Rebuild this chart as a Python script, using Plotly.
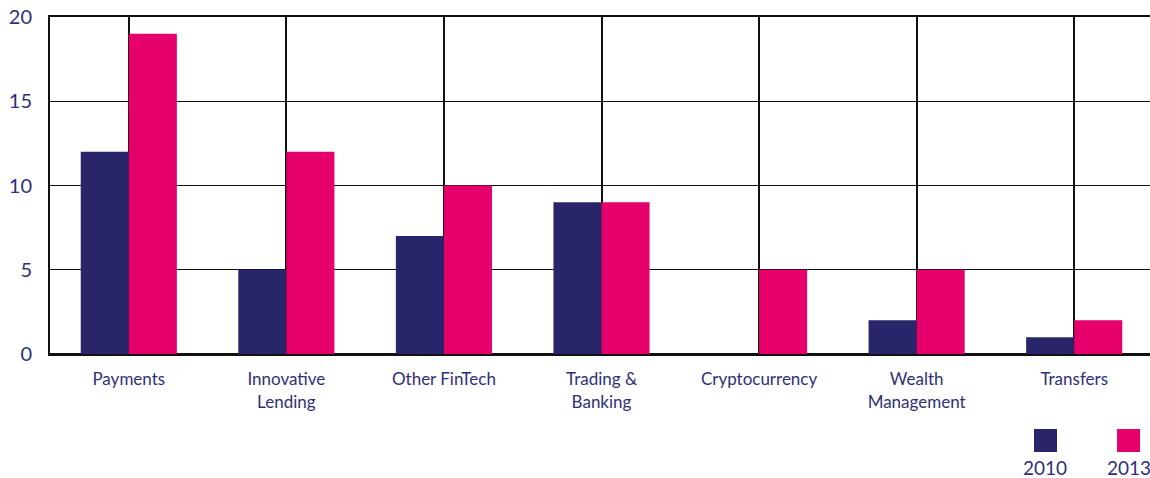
import plotly.graph_objects as go

categories = ["Payments", "Innovative<br>Lending", "Other FinTech", "Trading &<br>Banking",
              "Cryptocurrency", "Wealth<br>Management", "Transfers"]
values_2010 = [12, 5, 7, 9, 0, 2, 1]
values_2013 = [19, 12, 10, 9, 5, 5, 2]
series_names = ["2010", "2013"]
y_ticks = [0, 5, 10, 15, 20]

NAVY = "#28256B"
PINK = "#E5006B"
TEXT = "#2F3079"
FONT = "Lato, Open Sans, sans-serif"

fig = go.Figure()
fig.add_trace(go.Bar(x=categories, y=values_2010, name=series_names[0], marker=dict(color=NAVY, line=dict(width=0))))
fig.add_trace(go.Bar(x=categories, y=values_2013, name=series_names[1], marker=dict(color=PINK, line=dict(width=0))))

fig.update_layout(
    width=1153, height=478,
    margin=dict(l=50, r=0, t=17, b=124, autoexpand=False),
    barmode="group", bargap=0.39, bargroupgap=0,
    plot_bgcolor="white", paper_bgcolor="white",
    showlegend=False,
    font=dict(family=FONT, color=TEXT, size=17),
)
fig.update_xaxes(
    showgrid=True, gridcolor="#111111", gridwidth=1.6,
    showline=True, mirror=True, linecolor="#111111", linewidth=2,
    zeroline=False, ticks="", automargin=False,
    tickfont=dict(size=17, color=TEXT, family=FONT),
    ticklabelstandoff=9,
)
fig.update_yaxes(
    range=[0, 20], tickvals=y_ticks,
    showgrid=True, gridcolor="#111111", gridwidth=1.4,
    zeroline=True, zerolinecolor="#111111", zerolinewidth=2.2,
    showline=True, linecolor="#111111", linewidth=2,
    ticks="", automargin=False,
    tickfont=dict(size=20, color=TEXT, family=FONT),
    ticklabelstandoff=12, ticklabeloverflow="allow",
)

# legend: colored squares with year labels below
legend_items = [(series_names[0], NAVY, 0.8921), (series_names[1], PINK, 0.9674)]
for name, color, xl in legend_items:
    fig.add_shape(type="rect", xref="paper", yref="paper",
                  x0=xl, x1=xl + 0.02085, y0=-0.2908, y1=-0.2226,
                  fillcolor=color, line=dict(width=0))
    fig.add_annotation(xref="paper", yref="paper", x=xl + 0.0104, y=-0.336,
                       text=name, showarrow=False, xanchor="center", yanchor="middle",
                       font=dict(size=19, color=TEXT, family=FONT))

fig.write_html(
    "out.html",
    config={"displayModeBar": False},
    post_script="document.body.style.margin='0';document.body.style.overflow='hidden';"
                "document.documentElement.style.overflow='hidden';",
)
